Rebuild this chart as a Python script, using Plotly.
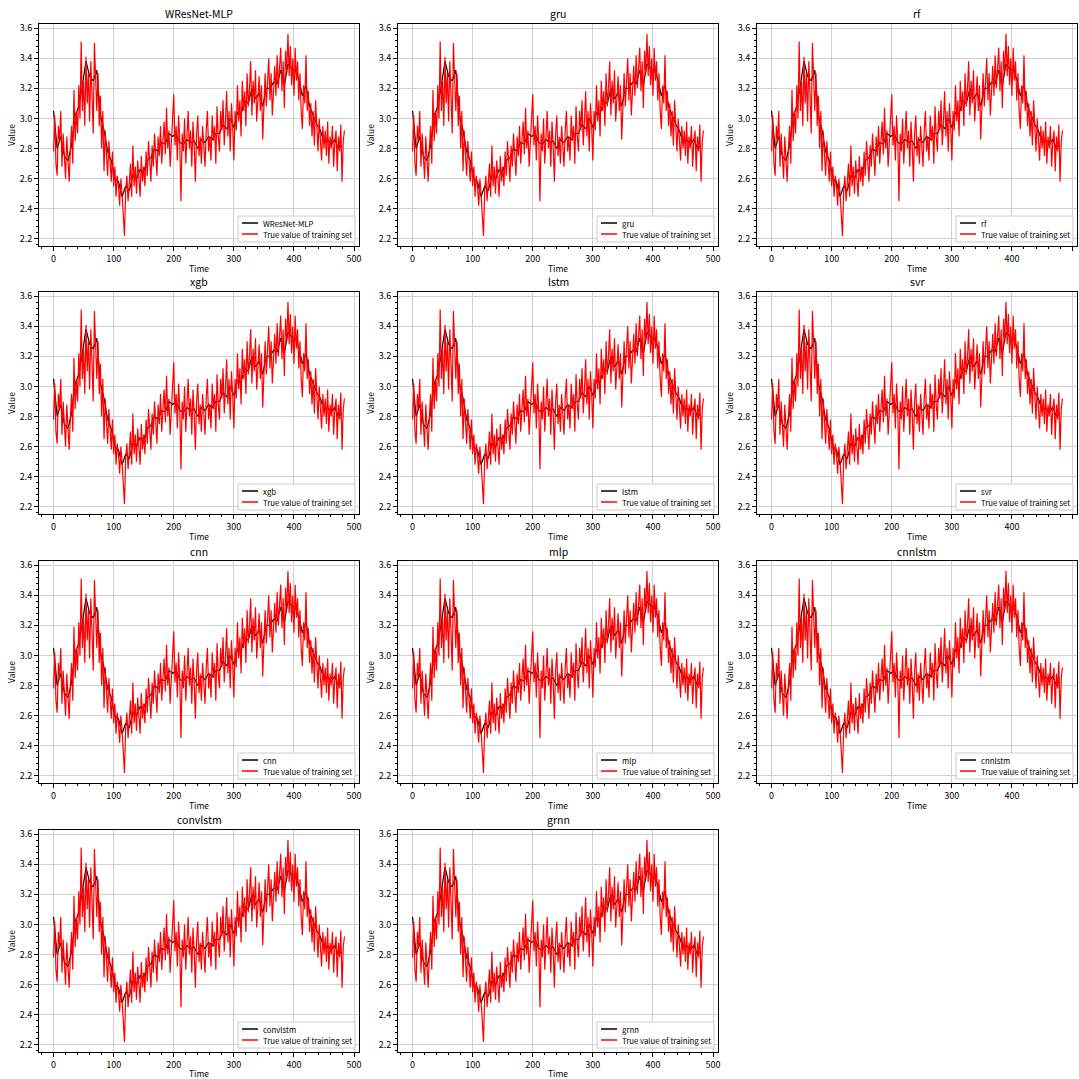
import plotly.graph_objects as go

W = H = 1079

models = ["WResNet-MLP", "gru", "rf", "xgb", "lstm", "svr", "cnn", "mlp", "cnnlstm", "convlstm", "grnn"]
true_label = "True value of training set"

# True value of training set, read every 2 time steps (t = 0, 2, ..., 484)
true_t_step = 2
true_vals = [
    2.78, 3.02, 2.70, 2.62, 2.95, 2.85, 3.05, 2.68, 2.90, 2.75, 2.60, 2.88, 2.72, 2.58, 2.80, 2.95,
    2.70, 3.19, 2.85, 3.05, 2.90, 3.22, 3.00, 3.51,
    3.05, 3.25, 2.95, 3.41, 3.10, 3.30, 2.98, 3.38, 3.15, 2.90, 3.50, 3.20, 3.05,
    3.30, 2.95, 3.15, 2.80, 3.05, 2.65, 2.92, 2.78, 2.62, 2.85, 2.70, 2.58, 2.78, 2.55, 2.68, 2.48,
    2.62, 2.55, 2.42, 2.60, 2.50, 2.38, 2.22,
    2.52, 2.62, 2.45, 2.58, 2.70, 2.48, 2.82, 2.55, 2.68, 2.50, 2.72, 2.60, 2.48, 2.75, 2.58, 2.68,
    2.55, 2.78, 2.62, 2.85, 2.70, 2.58, 2.82, 2.68, 2.90, 2.72, 2.62, 2.88, 2.75, 2.95, 2.70, 2.85,
    2.98, 2.76, 3.07, 2.80, 2.92, 2.68, 2.88, 3.00, 3.16,
    2.82, 2.95, 2.72, 3.02, 2.85, 2.45, 2.90, 2.78, 3.00, 2.70, 2.88, 3.05, 2.80, 2.92, 2.68, 2.98,
    2.82, 2.58, 2.90, 3.02, 2.75, 2.88, 2.70, 2.95, 2.82,
    2.68, 2.92, 3.05, 2.78, 2.88, 2.72, 3.02, 2.85, 2.95, 2.70, 3.08, 2.88, 2.78, 3.05, 2.92, 3.12,
    2.82, 2.98, 3.18, 2.88, 3.05, 2.78, 3.10, 2.95, 2.72,
    3.05, 2.92, 3.22, 2.98, 3.12, 2.88, 3.25, 3.05, 3.18, 2.95, 3.30, 3.08, 3.20, 3.38, 3.02, 3.25,
    3.10, 3.32, 2.98, 3.18, 3.28, 3.05, 3.22, 2.86, 3.15,
    3.30, 3.08, 3.25, 3.40, 3.12, 3.30, 3.02, 3.22, 3.35, 3.15, 3.42, 3.20, 3.32, 3.47, 3.18, 3.38,
    3.07, 3.45, 3.30, 3.56, 3.28, 3.48, 3.22, 3.40, 3.15, 3.47,
    3.25, 3.38, 3.12, 3.30, 3.05, 2.93, 3.22, 3.10, 3.42, 3.05, 3.18, 2.95, 3.10, 2.88, 3.05, 2.82,
    3.12, 2.90, 2.78, 3.00, 2.85, 2.72, 2.95, 2.80,
    2.92, 2.75, 2.98, 2.70, 2.88, 2.80, 2.95, 2.68, 2.85, 2.92, 2.65, 2.88, 2.78, 2.96, 2.58, 2.85, 2.92,
]

# Model prediction (black), read every 6 time steps (t = 0, 6, ..., 480)
pred_t_step = 6
pred_vals = [
    3.05, 2.80, 2.88, 2.75, 2.72, 2.82, 3.02, 3.08, 3.22, 3.38, 3.28, 3.25, 3.32, 3.02, 2.92, 2.78,
    2.72, 2.60, 2.58, 2.48, 2.55, 2.52, 2.62, 2.60, 2.66, 2.65, 2.72, 2.74, 2.80, 2.78, 2.84, 2.83,
    2.90, 2.88, 2.90, 2.84, 2.83, 2.86, 2.84, 2.85, 2.80, 2.86, 2.84, 2.88, 2.86, 2.90, 2.90, 2.96,
    2.93, 3.00, 2.94, 3.04, 3.03, 3.12, 3.10, 3.20, 3.13, 3.17, 3.08, 3.20, 3.20, 3.24, 3.23, 3.32,
    3.22, 3.36, 3.33, 3.32, 3.26, 3.15, 3.22, 3.08, 3.02, 2.96, 2.92, 2.84, 2.86, 2.83, 2.86, 2.80, 2.82,
]

x_ticks = [0, 100, 200, 300, 400, 500]
y_ticks = [2.2, 2.4, 2.6, 2.8, 3.0, 3.2, 3.4, 3.6]

true_t = [i * true_t_step for i in range(len(true_vals))]
pred_t = [i * pred_t_step for i in range(len(pred_vals))]

FONT = "Noto Sans CJK SC"
col_left = [39, 398, 757]
col_w = 320
row_top = [24, 292, 561, 830]
row_h = 222

def px(xp):
    return xp / W

def py(yp):
    return 1 - yp / H

fig = go.Figure()
annotations = []
shapes = []
for k, name in enumerate(models):
    r, c = divmod(k, 3)
    n = k + 1
    xa = "x" if n == 1 else f"x{n}"
    ya = "y" if n == 1 else f"y{n}"
    L = col_left[c]
    R = L + col_w
    T = row_top[r]
    B = T + row_h
    fig.add_trace(go.Scatter(x=pred_t, y=pred_vals, mode="lines", name=name, showlegend=False,
                             line=dict(color="black", width=1.2), xaxis=xa, yaxis=ya))
    fig.add_trace(go.Scatter(x=true_t, y=true_vals, mode="lines", name=true_label, showlegend=False,
                             line=dict(color="#ff0000", width=1.2), xaxis=xa, yaxis=ya))
    axcommon = dict(showline=True, linecolor="black", linewidth=1, mirror=True,
                    ticks="outside", ticklen=4, tickcolor="black", automargin=False,
                    showgrid=True, gridcolor="#d0d0d0", gridwidth=1, zeroline=False,
                    tickfont=dict(family=FONT, size=9, color="black"))
    fig.update_layout(**{
        ("xaxis" if n == 1 else f"xaxis{n}"): dict(
            domain=[px(L), px(R)], anchor=ya, range=[-24.2, 508.2], tickvals=x_ticks,
            minor=dict(ticks="outside", ticklen=2, dtick=20, tick0=0, tickcolor="black", showgrid=False),
            title=dict(text="Time", font=dict(family=FONT, size=8.5, color="black"), standoff=2),
            **axcommon),
        ("yaxis" if n == 1 else f"yaxis{n}"): dict(
            domain=[py(B), py(T)], anchor=xa, range=[2.153, 3.627], tickvals=y_ticks,
            tickformat=".1f",
            minor=dict(ticks="outside", ticklen=2, dtick=0.04, tick0=2.2, tickcolor="black", showgrid=False),
            title=dict(text="Value", font=dict(family=FONT, size=8.5, color="black"), standoff=2),
            **axcommon),
    })
    # title
    annotations.append(dict(text=name, x=px((L + R) / 2), y=py(T - 10), xref="paper", yref="paper",
                            xanchor="center", yanchor="middle", showarrow=False,
                            font=dict(family=FONT, size=10.5, color="black")))
    # legend box (bottom right inside the panel)
    bR, bB = R - 4, B - 4
    bL, bT = bR - 117, bB - 26
    shapes.append(dict(type="rect", xref="paper", yref="paper", x0=px(bL), x1=px(bR), y0=py(bB), y1=py(bT),
                       line=dict(color="#cccccc", width=1), fillcolor="rgba(255,255,255,0.85)", layer="above"))
    for j, (col, lab) in enumerate([("black", name), ("#ff0000", true_label)]):
        yy = bT + 7 + 11 * j
        shapes.append(dict(type="line", xref="paper", yref="paper", x0=px(bL + 4), x1=px(bL + 20),
                           y0=py(yy), y1=py(yy), line=dict(color=col, width=1.5), layer="above"))
        annotations.append(dict(text=lab, x=px(bL + 23), y=py(yy), xref="paper", yref="paper",
                                xanchor="left", yanchor="middle", showarrow=False,
                                font=dict(family=FONT, size=7.8, color="black")))

fig.update_layout(width=W, height=H, margin=dict(l=0, r=0, t=0, b=0),
                  plot_bgcolor="white", paper_bgcolor="white",
                  annotations=annotations, shapes=shapes, showlegend=False,
                  font=dict(family=FONT, color="black"))
fig.write_html("out.html", config={"displayModeBar": False},
               post_script="document.body.style.margin='0';")
